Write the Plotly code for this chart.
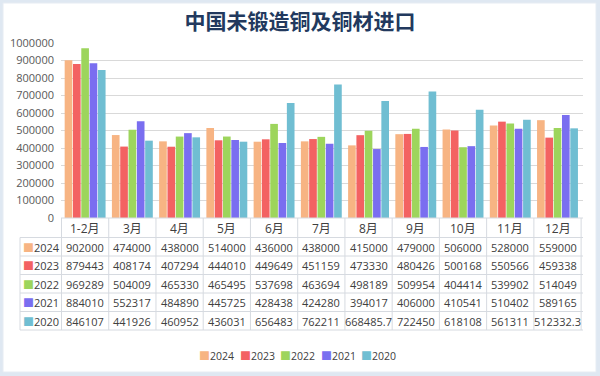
import plotly.graph_objects as go

categories = ["1-2月", "3月", "4月", "5月", "6月", "7月", "8月", "9月", "10月", "11月", "12月"]
years = ["2024", "2023", "2022", "2021", "2020"]
v2024 = [902000, 474000, 438000, 514000, 436000, 438000, 415000, 479000, 506000, 528000, 559000]
v2023 = [879443, 408174, 407294, 444010, 449649, 451159, 473330, 480426, 500168, 550566, 459338]
v2022 = [969289, 504009, 465330, 465495, 537698, 463694, 498189, 509954, 404414, 539902, 514049]
v2021 = [884010, 552317, 484890, 445725, 428438, 424280, 394017, 406000, 410541, 510402, 589165]
v2020 = [846107, 441926, 460952, 436031, 656483, 762211, 668485.7, 722450, 618108, 561311, 512332.3]
series = [v2024, v2023, v2022, v2021, v2020]
colors = ["#F7B483", "#F36262", "#9DD55C", "#7A6EF0", "#70BED2"]
title = "中国未锻造铜及铜材进口"

# layout geometry (pixels)
L, R, T, B = 61, 583, 43, 218
W, H = R - L, B - T
def px(p):
    return (p - L) / W
def py(p):
    return (B - p) / H

font_fam = "Open Sans, Noto Sans CJK SC, sans-serif"
txt_col = "#404040"
line_col = "#D6DAE0"

fig = go.Figure()
for name, vals, c in zip(years, series, colors):
    fig.add_trace(go.Bar(x=categories, y=vals, name=name, marker=dict(color=c, line=dict(width=0)),
                         showlegend=False))

shapes = []
annotations = []

# outer frame
shapes.append(dict(type="rect", xref="paper", yref="paper", x0=px(3), x1=px(596), y0=py(372), y1=py(3),
                   fillcolor="white", line=dict(color="#E6ECF3", width=1), layer="below"))

# table lines
row_lines = [237.5, 256, 274.5, 293, 311.5, 330]
for yl in row_lines:
    shapes.append(dict(type="line", xref="paper", yref="paper", x0=px(20), x1=1, y0=py(yl), y1=py(yl),
                       line=dict(color=line_col, width=1)))
shapes.append(dict(type="line", xref="paper", yref="paper", x0=0, x1=1, y0=0, y1=0,
                   line=dict(color=line_col, width=1)))
for i in range(len(categories) + 1):
    shapes.append(dict(type="line", xref="x", yref="paper", x0=i - 0.5, x1=i - 0.5, y0=py(330), y1=0,
                       line=dict(color=line_col, width=1)))
shapes.append(dict(type="line", xref="paper", yref="paper", x0=px(20), x1=px(20), y0=py(330), y1=py(237.5),
                   line=dict(color=line_col, width=1)))

def fmt(v):
    return str(int(v)) if float(v).is_integer() else str(v)

sw = '<span style="color:{c};font-size:11px">■</span>'
row_centers = [247, 265.5, 284, 302.5, 321]
for name, vals, c, yc in zip(years, series, colors, row_centers):
    annotations.append(dict(xref="paper", yref="paper", x=px(41), y=py(yc), showarrow=False,
                            text=sw.format(c=c) + name,
                            font=dict(family=font_fam, size=11, color=txt_col),
                            xanchor="center", yanchor="middle"))
    for cat, v in zip(categories, vals):
        annotations.append(dict(xref="x", yref="paper", x=cat, y=py(yc), showarrow=False,
                                text=fmt(v), font=dict(family=font_fam, size=11, color=txt_col),
                                xanchor="center", yanchor="middle"))

# header row (category labels)
for cat in categories:
    annotations.append(dict(xref="x", yref="paper", x=cat, y=py(228), showarrow=False,
                            text=cat, font=dict(family=font_fam, size=12, color=txt_col),
                            xanchor="center", yanchor="middle"))

# legend
for i, (name, c) in enumerate(zip(years, colors)):
    annotations.append(dict(xref="paper", yref="paper", x=px(197 + 40.5 * i), y=py(355), showarrow=False,
                            text=sw.format(c=c) + name,
                            font=dict(family=font_fam, size=10.5, color=txt_col),
                            xanchor="left", yanchor="middle"))

fig.update_layout(
    width=600, height=376,
    margin=dict(l=L, r=600 - R, t=T, b=376 - B, pad=0),
    paper_bgcolor="#DFE8F2",
    plot_bgcolor="rgba(0,0,0,0)",
    barmode="group", bargap=0.12, bargroupgap=0.08,
    title=dict(text=f"<b>{title}</b>", x=0.5, xanchor="center", y=1 - 22 / 376, yanchor="middle",
               font=dict(family="Noto Sans CJK SC", size=21, color="#22395E")),
    xaxis=dict(type="category", showticklabels=False, showgrid=False, zeroline=False, showline=False,
               ticks=""),
    yaxis=dict(range=[0, 1000000], dtick=100000, tickformat="d", showgrid=True, gridcolor="#D9D9D9",
               gridwidth=1, zeroline=False, showline=False, ticks="", automargin=False,
               tickfont=dict(family=font_fam, size=11, color="#595959"), ticklabelstandoff=6),
    shapes=shapes,
    annotations=annotations,
)

fig.write_html("out.html", config={"displayModeBar": False},
               post_script="document.body.style.margin='0';document.body.style.overflow='hidden';")
